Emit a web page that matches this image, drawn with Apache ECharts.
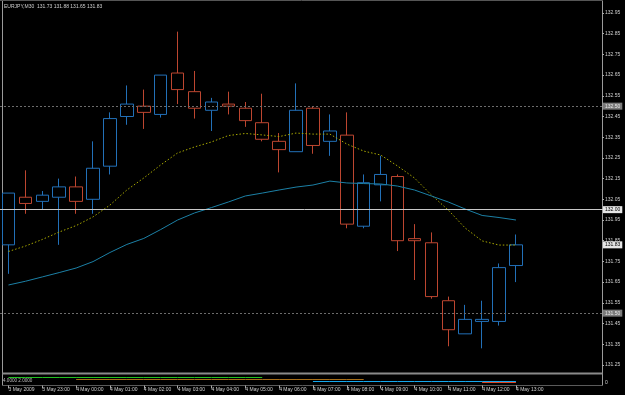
<!DOCTYPE html>
<html>
<head>
<meta charset="utf-8">
<script src="https://cdn.jsdelivr.net/npm/echarts@6/dist/echarts.min.js"></script>
<style>
html,body{margin:0;padding:0;background:#000;}
#c{width:625px;height:395px;}
</style>
</head>
<body>
<div id="c"></div>
<script>
// ---- data ----
const symbolName = 'EURJPY,M30';
const times = ['3 May 22:00','3 May 22:30','3 May 23:00','3 May 23:30','4 May 00:00','4 May 00:30','4 May 01:00','4 May 01:30','4 May 02:00','4 May 02:30','4 May 03:00','4 May 03:30','4 May 04:00','4 May 04:30','4 May 05:00','4 May 05:30','4 May 06:00','4 May 06:30','4 May 07:00','4 May 07:30','4 May 08:00','4 May 08:30','4 May 09:00','4 May 09:30','4 May 10:00','4 May 10:30','4 May 11:00','4 May 11:30','4 May 12:00','4 May 12:30','4 May 13:00'];
const futureSlots = ['4 May 13:30','4 May 14:00','4 May 14:30','4 May 15:00','4 May 15:30'];
const timeTickLabels = ['3 May 2009','3 May 23:00','4 May 00:00','4 May 01:00','4 May 02:00','4 May 03:00','4 May 04:00','4 May 05:00','4 May 06:00','4 May 07:00','4 May 08:00','4 May 09:00','4 May 10:00','4 May 11:00','4 May 12:00','4 May 13:00'];

const openP  = [131.83,132.06,132.04,132.06,132.11,132.05,132.21,132.45,132.50,132.46,132.66,132.57,132.48,132.51,132.49,132.42,132.33,132.28,132.49,132.33,132.36,131.92,132.12,132.16,131.86,131.84,131.56,131.40,131.46,131.46,131.73];
const closeP = [132.08,132.03,132.07,132.11,132.04,132.20,132.44,132.51,132.47,132.65,132.58,132.49,132.52,132.50,132.43,132.34,132.29,132.48,132.31,132.38,131.93,132.13,132.17,131.85,131.85,131.58,131.42,131.47,131.47,131.72,131.83];
const lowP   = [131.69,131.98,132.00,131.83,131.98,131.98,132.17,132.41,132.39,132.445,132.51,132.44,132.38,132.46,132.40,132.33,132.18,132.28,132.27,132.26,131.91,131.91,132.04,131.80,131.66,131.57,131.34,131.40,131.33,131.44,131.65];
const highP  = [132.08,132.19,132.09,132.15,132.16,132.33,132.47,132.60,132.58,132.65,132.86,132.67,132.54,132.57,132.52,132.56,132.37,132.61,132.50,132.46,132.47,132.17,132.26,132.17,131.93,131.89,131.58,131.54,131.56,131.74,131.88];

const maFast = [131.798,131.824,131.856,131.892,131.923,131.965,132.022,132.095,132.153,132.216,132.274,132.303,132.327,132.358,132.368,132.361,132.353,132.370,132.365,132.365,132.317,132.283,132.264,132.211,132.153,132.071,131.998,131.911,131.849,131.829,131.829];
const maSlow = [131.636,131.654,131.675,131.696,131.718,131.749,131.793,131.832,131.861,131.904,131.950,131.984,132.010,132.037,132.066,132.080,132.095,132.109,132.119,132.138,132.129,132.126,132.124,132.114,132.095,132.066,132.037,132.003,131.972,131.962,131.950];

// sub-window indicator levels per bar (null = not drawn)
const indGreen  = [4,4,4,4,4,4,4,4,4,4,4,4,4,4,4,4,null,null,null,null,null,null,null,null,null,null,null,null,null,null,null];
const indOrange = [null,null,null,null,3,3,3,3,3,3,3,3,3,3,3,3,3,3,3,3,3,3,null,null,null,null,null,null,null,null,null];
const indBlue   = [null,null,null,null,null,null,null,null,null,null,null,null,null,null,null,null,null,null,2,2,2,2,2,2,2,2,2,2,2,2,2];
const indRed    = [null,null,null,null,null,null,null,null,null,null,null,null,null,null,null,null,null,null,null,null,null,null,null,null,null,null,null,null,1.5,1.5,1.5];
const indicatorLevels = ['4.0000','2.0000'];

const dottedLevels = [132.50, 131.50];
const solidLevel = 132.00;

// ---- build ----
const cats = times.concat(futureSlots);
const candles = openP.map((o,i)=>[o, closeP[i], lowP[i], highP[i]]);
const last = candles.length - 1;
const titleText = symbolName + '  ' + openP[last].toFixed(2) + ' ' + highP[last].toFixed(2) + ' ' + lowP[last].toFixed(2) + ' ' + closeP[last].toFixed(2);

const FONT = 'Liberation Sans';
const txt = '#cfcfcf';
const bull = '#2270b8', bear = '#bd4630';

function boxLabel(bg, fg){
  return {show:true, position:'end', distance:[-6,0], formatter:(p)=>p.value.toFixed(2),
    fontSize:5, fontFamily:FONT, color:fg, backgroundColor:bg, padding:[1,2,1,2], opacity:1};
}

const chart = echarts.init(document.getElementById('c'), null, {renderer:'canvas'});
chart.setOption({
  backgroundColor:'#000',
  animation:false,
  title:[
    {text:titleText, left:4, top:4, padding:0, textStyle:{fontSize:5, fontWeight:'normal', color:txt, fontFamily:FONT}},
    {text:indicatorLevels.join(' '), left:3, top:378.5, padding:0, textStyle:{fontSize:4.6, fontWeight:'normal', color:'#bbb', fontFamily:FONT}}
  ],
  grid:[
    {left:-5.5, right:16, top:13, height:351.9, containLabel:false},
    {left:-5.5, right:16, top:374.5, height:11, containLabel:false}
  ],
  xAxis:[
    {type:'category', gridIndex:0, data:cats, boundaryGap:true, show:false},
    {type:'category', gridIndex:1, data:cats, boundaryGap:true, position:'bottom',
      axisLine:{show:false},
      axisTick:{show:true, alignWithLabel:true, length:3, lineStyle:{color:'#aaa'},
        interval:(i)=> i%2===0 && i/2 < timeTickLabels.length},
      axisLabel:{show:true, align:'left', margin:2, fontSize:5, fontFamily:FONT, color:txt, hideOverlap:false,
        interval:(i)=> i%2===0 && i/2 < timeTickLabels.length,
        formatter:(v,i)=> (i%2===0 && i/2 < timeTickLabels.length) ? timeTickLabels[i/2] : ''},
      splitLine:{show:false}}
  ],
  yAxis:[
    {type:'value', gridIndex:0, position:'right', offset:-7, min:131.25, max:132.95, interval:0.1,
      axisLine:{show:false},
      axisTick:{show:true, length:2, lineStyle:{color:'#aaa'}},
      axisLabel:{show:true, margin:3, fontSize:5, fontFamily:FONT, color:txt, formatter:(v)=>v.toFixed(2)},
      splitLine:{show:false}},
    {type:'value', gridIndex:1, position:'right', offset:-7, min:0, max:5.5, interval:5.5,
      axisLine:{show:false}, axisTick:{show:false},
      axisLabel:{show:true, margin:3, fontSize:5, fontFamily:FONT, color:txt, verticalAlign:'bottom',
        formatter:(v)=> v===0 ? '0' : ''},
      splitLine:{show:false}}
  ],
  series:[
    {type:'candlestick', xAxisIndex:0, yAxisIndex:0, data:candles, barWidth:13,
      itemStyle:{color:'#000', color0:'#000', borderColor:bull, borderColor0:bear, borderWidth:1},
      markLine:{symbol:'none', silent:true, z:5,
        data:[
          {yAxis:dottedLevels[0], lineStyle:{color:'#6c6c6c', type:[2,2], width:1}, label:boxLabel('#7a7a7a','#e8e8e8')},
          {yAxis:solidLevel, lineStyle:{color:'#c8c8c8', type:'solid', width:1}, label:boxLabel('#e6e6e6','#000')},
          {yAxis:dottedLevels[1], lineStyle:{color:'#6c6c6c', type:[2,2], width:1}, label:boxLabel('#7a7a7a','#e8e8e8')},
          {yAxis:closeP[last], lineStyle:{color:'rgba(0,0,0,0)', width:1}, label:boxLabel('#e6e6e6','#000')}
        ]}},
    {type:'line', xAxisIndex:0, yAxisIndex:0, data:maFast, showSymbol:false, symbol:'none', z:3,
      lineStyle:{color:'#a8a800', width:1, type:[1.5,2]}},
    {type:'line', xAxisIndex:0, yAxisIndex:0, data:maSlow, showSymbol:false, symbol:'none', z:3,
      lineStyle:{color:'#1c80a6', width:1}},
    {type:'line', xAxisIndex:1, yAxisIndex:1, data:indGreen, showSymbol:false, symbol:'none',
      lineStyle:{color:'#22c022', width:1}},
    {type:'line', xAxisIndex:1, yAxisIndex:1, data:indOrange, showSymbol:false, symbol:'none',
      lineStyle:{color:'#a86e18', width:1}},
    {type:'line', xAxisIndex:1, yAxisIndex:1, data:indBlue, showSymbol:false, symbol:'none',
      lineStyle:{color:'#14a8ee', width:1}},
    {type:'line', xAxisIndex:1, yAxisIndex:1, data:indRed, showSymbol:false, symbol:'none',
      lineStyle:{color:'#e04422', width:1}}
  ],
  graphic:[
    {type:'line', shape:{x1:2.5,y1:0,x2:2.5,y2:386}, style:{stroke:'#9a9a9a', lineWidth:1}, silent:true},
    {type:'line', shape:{x1:602.5,y1:0,x2:602.5,y2:386}, style:{stroke:'#9a9a9a', lineWidth:1}, silent:true},
    {type:'line', shape:{x1:0,y1:0.5,x2:603,y2:0.5}, style:{stroke:'#555', lineWidth:1}, silent:true},
    {type:'rect', shape:{x:2,y:372.5,width:600.5,height:2}, style:{fill:'#8a8a8a'}, silent:true},
    {type:'line', shape:{x1:2,y1:385.5,x2:603,y2:385.5}, style:{stroke:'#5a5a5a', lineWidth:1}, silent:true}
  ]
});
</script>
</body>
</html>
